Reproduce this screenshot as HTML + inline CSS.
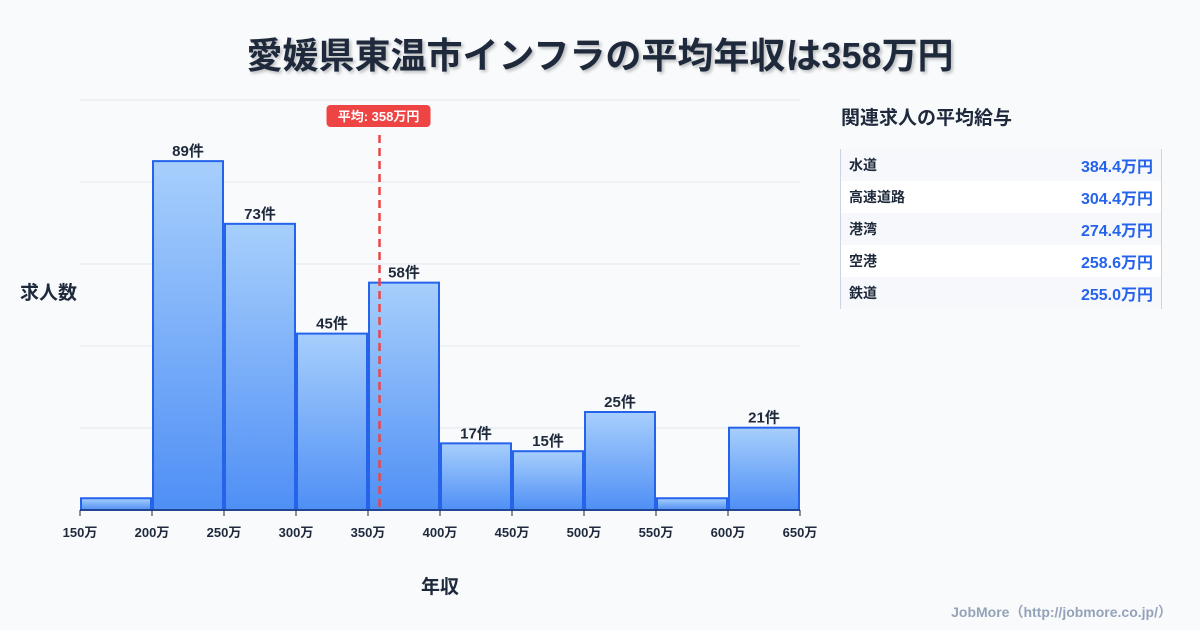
<!DOCTYPE html>
<html><head><meta charset="utf-8">
<style>
body{margin:0;width:1200px;height:630px;background:#f8fafc;font-family:"Liberation Sans","Noto Sans CJK JP",sans-serif;overflow:hidden;position:relative;color:#1e293b}
.title{position:absolute;left:0;width:1200px;top:27px;text-align:center;font-size:36px;font-weight:700;color:#1e293b;text-shadow:2px 2px 3px rgba(0,0,0,0.25)}
.panel-title{position:absolute;left:841px;top:103px;font-size:19px;font-weight:700}
.table{position:absolute;left:840px;top:149px;width:320px;border-left:1px solid #cbd5e1;border-right:1px solid #cbd5e1}
.row{height:32px;display:flex;justify-content:space-between;align-items:center;padding:0 8px;font-size:14px;font-weight:700}
.row:nth-child(odd){background:#f6f8fb}.row:nth-child(even){background:#fff}
.row span:last-child{color:#2563eb;font-size:16px}
.foot{position:absolute;right:28px;top:602px;font-size:14px;color:#94a3b8;font-weight:700}
</style></head><body>
<div class="title">愛媛県東温市インフラの平均年収は358万円</div>
<svg id="chart" width="830" height="630" style="position:absolute;left:0;top:0"></svg>
<div class="panel-title">関連求人の平均給与</div>
<div class="table">
<div class="row"><span>水道</span><span>384.4万円</span></div>
<div class="row"><span>高速道路</span><span>304.4万円</span></div>
<div class="row"><span>港湾</span><span>274.4万円</span></div>
<div class="row"><span>空港</span><span>258.6万円</span></div>
<div class="row"><span>鉄道</span><span>255.0万円</span></div>
</div>
<div class="foot">JobMore（http://jobmore.co.jp/）</div>
<script>
const binStarts=[150,200,250,300,350,400,450,500,550,600];
const counts=[3,89,73,45,58,17,15,25,3,21];
const showLabel=[false,true,true,true,true,true,true,true,false,true];
const xTicks=[150,200,250,300,350,400,450,500,550,600,650];
const meanValue=358;
const NS="http://www.w3.org/2000/svg";
const svg=document.getElementById('chart');
const x=v=>80+(v-150)*1.44;
const y=v=>510-v*3.92;
function mk(t,a){const e=document.createElementNS(NS,t);for(const k in a)e.setAttribute(k,a[k]);svg.appendChild(e);return e;}
const defs=mk('defs',{});
defs.innerHTML='<linearGradient id="g" x1="0" y1="0" x2="0" y2="1"><stop offset="0" stop-color="#a7cffc"/><stop offset="1" stop-color="#4f8ff5"/></linearGradient>';
for(let i=0;i<6;i++){const g=mk('line',{x1:80,x2:800,y1:100+i*82,y2:100+i*82,stroke:'#e2e8f0','stroke-width':1});
}
binStarts.forEach((b,i)=>{
 const x0=x(b)+1,x1=x(b+50)-1,yt=y(counts[i]);
 const r=mk('rect',{x:x0,y:yt,width:x1-x0,height:510-yt,fill:'url(#g)',stroke:'#2563eb','stroke-width':2});
 
 if(showLabel[i]){const t=mk('text',{x:(x0+x1)/2,y:yt-5,'text-anchor':'middle','font-size':15,'font-weight':700,fill:'#1e293b'});t.textContent=counts[i]+'件';
 }
});
const ax=mk('line',{x1:80,x2:800,y1:510,y2:510,stroke:'#1e293b','stroke-width':1});

xTicks.forEach(v=>{mk('line',{x1:x(v),x2:x(v),y1:510,y2:516,stroke:'#1e293b'});
 const t=mk('text',{x:x(v),y:537,'text-anchor':'middle','font-size':13,'font-weight':700,fill:'#1e293b'});t.textContent=v+'万';
 });
const ml=mk('line',{x1:x(meanValue),x2:x(meanValue),y1:135,y2:510,stroke:'#ef4444','stroke-width':2.5,'stroke-dasharray':'8,5'});

const mr=mk('rect',{x:x(meanValue)-53,y:105,width:104,height:22,rx:4,fill:'#ef4444'});

const mt=mk('text',{x:x(meanValue)-1,y:121,'text-anchor':'middle','font-size':13,'font-weight':700,fill:'#fff'});mt.textContent='平均: '+meanValue+'万円';

const yt=mk('text',{x:20,y:299,'font-size':19,'font-weight':700,fill:'#1e293b'});yt.textContent='求人数';

const xt=mk('text',{x:440,y:593,'text-anchor':'middle','font-size':19,'font-weight':700,fill:'#1e293b'});xt.textContent='年収';

</script>
</body></html>
